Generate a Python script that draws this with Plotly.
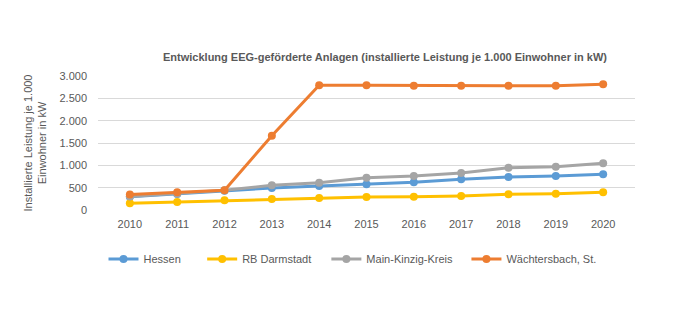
import plotly.graph_objects as go

years = ["2010", "2011", "2012", "2013", "2014", "2015", "2016", "2017", "2018", "2019", "2020"]
hessen = [298, 360, 430, 493, 537, 575, 619, 687, 739, 761, 799]
rb_darmstadt = [149, 179, 216, 246, 269, 291, 298, 313, 351, 365, 396]
main_kinzig = [300, 365, 440, 553, 612, 724, 761, 828, 948, 970, 1045]
waechtersbach = [345, 396, 440, 1664, 2791, 2791, 2783, 2783, 2783, 2783, 2813]

series = [
    ("Hessen", hessen, "#5B9BD5", "legend", 0.150),
    ("RB Darmstadt", rb_darmstadt, "#FFC000", "legend2", 0.293),
    ("Main-Kinzig-Kreis", main_kinzig, "#A5A5A5", "legend3", 0.473),
    ("Wächtersbach, St.", waechtersbach, "#ED7D31", "legend4", 0.676),
]

fig = go.Figure()
for name, vals, col, lg, _ in series:
    fig.add_trace(go.Scatter(
        x=years, y=vals, name=name, mode="lines+markers",
        line=dict(color=col, width=3),
        marker=dict(color=col, size=8),
        legend=lg,
    ))

font_family = "Liberation Sans, Arial"
legend_common = dict(
    orientation="h", xref="container", yref="container",
    yanchor="middle", y=1 - 259 / 329,
    font=dict(family=font_family, size=11, color="#595959"),
    bgcolor="rgba(0,0,0,0)", itemwidth=30,
)
layout_legends = {}
for i, (name, vals, col, lg, lx) in enumerate(series):
    layout_legends[lg] = dict(legend_common, x=lx, xanchor="left")

fig.update_layout(
    width=690, height=329,
    margin=dict(l=98, r=55, t=76, b=119),
    paper_bgcolor="white", plot_bgcolor="white",
    title=dict(
        text="<b>Entwicklung EEG-geförderte Anlagen (installierte Leistung je 1.000 Einwohner in kW)</b>",
        x=385 / 690, xref="container", xanchor="center",
        y=1 - 57 / 329, yref="container", yanchor="middle",
        font=dict(family=font_family, size=11, color="#595959"),
    ),
    xaxis=dict(
        type="category", showgrid=False, showline=False, ticks="",
        ticklabelstandoff=6,
        tickfont=dict(family=font_family, size=11, color="#595959"),
    ),
    yaxis=dict(
        range=[0, 3000], dtick=500, tickformat=",d",
        gridcolor="#D9D9D9", gridwidth=1, zeroline=False, showline=False,
        ticklabelstandoff=10,
        tickfont=dict(family=font_family, size=11, color="#595959"),
        title=dict(
            text="Installierte Leistung je 1.000<br>Einwohner in kW",
            font=dict(family=font_family, size=11, color="#595959"),
            standoff=10,
        ),
    ),
    separators=",.",
    showlegend=True,
    **layout_legends,
)

fig.write_html("out.html")
